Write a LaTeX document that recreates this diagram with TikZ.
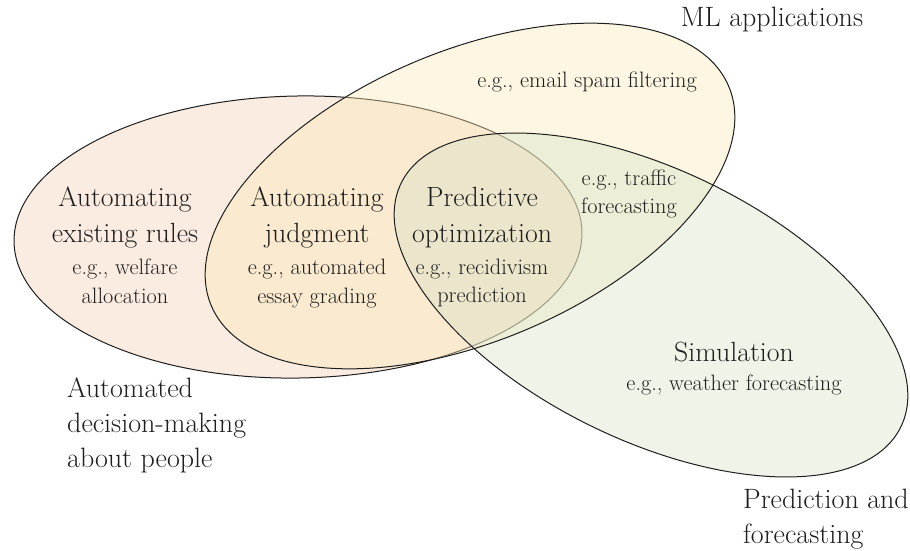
\documentclass[tikz,border=0pt]{standalone}
\usepackage{xcolor}
\usetikzlibrary{positioning}

\definecolor{admfill}{RGB}{251,236,225}
\definecolor{mlfill}{RGB}{250,232,182}
\definecolor{pffill}{RGB}{214,226,198}
\definecolor{ink}{RGB}{30,30,30}

\begin{document}
\begin{tikzpicture}[
  x=1pt, y=-1pt,
  setline/.style={draw=ink, line width=1pt},
  head/.style={align=center, text=ink, inner sep=0pt,
               font=\fontsize{27.8}{36}\selectfont},
  eg/.style={align=center, text=ink, inner sep=0pt,
             font=\fontsize{22.3}{28.5}\selectfont},
  setname/.style={align=left, text=ink, inner sep=0pt,
                  font=\fontsize{28}{35}\selectfont}
]
\useasboundingbox (0,0) rectangle (910,550);
\coordinate (adm) at (298,237);
\coordinate (ml)  at (470,196);
\coordinate (pf)  at (651,305);

% decision-making set first, the other fills soften its outline
\fill[admfill, rotate around={1:(adm)}] (adm) ellipse [x radius=284, y radius=141];
\draw[setline, rotate around={1:(adm)}] (adm) ellipse [x radius=284, y radius=141];
\fill[mlfill, fill opacity=0.4, rotate around={23:(ml)}]
  (ml) ellipse [x radius=281, y radius=145];
\fill[pffill, fill opacity=0.4, rotate around={-26:(pf)}]
  (pf) ellipse [x radius=278, y radius=135];
\draw[setline, rotate around={23:(ml)}] (ml) ellipse [x radius=281, y radius=145];
\draw[setline, rotate around={-26:(pf)}] (pf) ellipse [x radius=278, y radius=135];

% region labels
\node[head] (rules) at (125,218) {Automating\\existing rules};
\node[eg, below=10pt of rules] (rulesEg) {e.g., welfare\\allocation};
\node[head] (judg) at (317,218) {Automating\\judgment};
\node[eg, below=10pt of judg] (judgEg) {e.g., automated\\essay grading};
\node[head] (popt) at (482,218) {Predictive\\optimization};
\node[eg, below=10pt of popt] (poptEg) {e.g., recidivism\\prediction};
\node[eg] (spam) at (587,82) {e.g., email spam filtering};
\node[eg] (traffic) at (629,194) {e.g., traffic\\forecasting};
\node[head] (sim) at (734,352) {Simulation};
\node[eg, below=12pt of sim] (simEg) {e.g., weather forecasting};

% set names
\node[setname] (mlName) at (772,20) {ML applications};
\node[setname, anchor=west] (admName) at (67,425)
  {Automated\\decision-making\\about people};
\node[setname, anchor=west] (pfName) at (743,519) {Prediction and\\forecasting};
\end{tikzpicture}
\end{document}
